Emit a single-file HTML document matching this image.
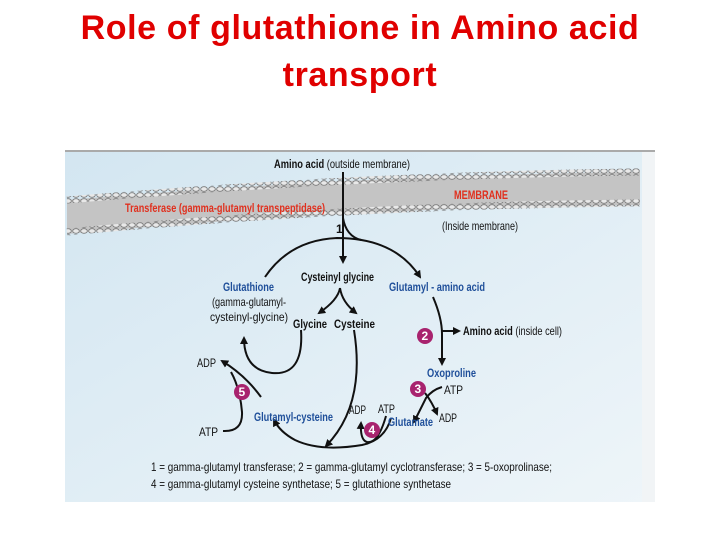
<!DOCTYPE html><html><head><style>
body{margin:0;width:720px;height:540px;background:#fff;overflow:hidden;font-family:"Liberation Sans",sans-serif}
h1{margin:0;position:absolute;top:5px;width:720px;text-align:center;color:#e00000;font-weight:bold;font-size:34px;line-height:47px;font-family:"Liberation Sans",sans-serif;letter-spacing:0.6px}
svg{position:absolute;left:0;top:0}
text{font-family:"Liberation Sans",sans-serif;font-size:12px}
.b{fill:#1f4f9a;font-weight:bold}.k{fill:#111}.r{fill:#e0301e;font-weight:bold}
</style></head><body>
<h1>Role of glutathione in Amino acid<br>transport</h1>
<svg width="720" height="540">
<defs>
<linearGradient id="bg" x1="0" y1="0" x2="1" y2="1"><stop offset="0" stop-color="#d3e6f1"/><stop offset="1" stop-color="#eef5f9"/></linearGradient>
<marker id="a" markerWidth="8" markerHeight="8" refX="6" refY="4" orient="auto" markerUnits="userSpaceOnUse"><path d="M0,0L8,4L0,8z" fill="#111"/></marker>
<pattern id="bub" width="8" height="6" patternUnits="userSpaceOnUse"><ellipse cx="4" cy="3" rx="3.3" ry="2.3" fill="#e8e8e8" stroke="#777" stroke-width="0.8"/></pattern>
</defs>
<rect x="65" y="150" width="590" height="352" fill="url(#bg)"/>
<rect x="642" y="150" width="13" height="352" fill="#f1f4f6"/>
<rect x="65" y="150" width="590" height="2" fill="#aaa"/>
<path d="M67,200 Q360,175 640,172 L640,205 Q360,207 67,234 Z" fill="#c4c4c4"/>
<path d="M67,200 Q360,175 640,172" stroke="url(#bub)" stroke-width="7" fill="none"/>
<path d="M67,232 Q360,205 640,203" stroke="url(#bub)" stroke-width="7" fill="none"/>
<g fill="none" stroke="#111" stroke-width="2">
<path d="M343,172 L343,262" marker-end="url(#a)"/>
<path d="M265,277 Q290,240 337,238 Q395,238 420,277" marker-end="url(#a)"/>
<path d="M343,218 Q346,236 361,240"/>
<path d="M340,288 Q338,300 319,313" marker-end="url(#a)"/>
<path d="M340,288 Q342,302 356,313" marker-end="url(#a)"/>
<path d="M433,297 Q442,318 442,334 L442,364" marker-end="url(#a)"/>
<path d="M442,331 L459,331" marker-end="url(#a)"/>
<path d="M301,330 Q304,376 272,373 Q244,370 244,338" marker-end="url(#a)"/>
<path d="M354,330 Q366,405 326,446" marker-end="url(#a)"/>
<path d="M261,397 Q245,375 222,361" marker-end="url(#a)"/>
<path d="M223,431 Q243,432 242,412 Q240,388 231,372"/>
<path d="M442,387 Q432,390 426,398 Q420,410 414,422" marker-end="url(#a)"/>
<path d="M425,393 Q432,402 437,414" marker-end="url(#a)"/>
<path d="M391,418 Q385,440 362,445 Q320,452 295,440 Q280,432 274,420" marker-end="url(#a)"/>
<path d="M386,416 Q378,444 367,442 Q360,440 361,423" marker-end="url(#a)"/>
</g>
<g fill="#a8236e"><circle cx="425" cy="336" r="8"/><circle cx="418" cy="389" r="8"/><circle cx="372" cy="430" r="8"/><circle cx="242" cy="392" r="8"/></g>
<g fill="#fff" font-weight="bold"><text x="421.5" y="340">2</text><text x="414.5" y="393">3</text><text x="368.5" y="434">4</text><text x="238.5" y="396">5</text></g>
<text class="k" x="274" y="168" textLength="136" lengthAdjust="spacingAndGlyphs"><tspan font-weight="bold">Amino acid</tspan> (outside membrane)</text>
<text class="r" x="125" y="212" textLength="200" lengthAdjust="spacingAndGlyphs">Transferase (gamma-glutamyl transpeptidase)</text>
<text class="r" x="454" y="199" textLength="54" lengthAdjust="spacingAndGlyphs">MEMBRANE</text>
<text class="k" x="442" y="230" textLength="76" lengthAdjust="spacingAndGlyphs">(Inside membrane)</text>
<text class="k" x="336" y="233" font-weight="bold">1</text>
<text class="k" x="301" y="281" font-weight="bold" textLength="73" lengthAdjust="spacingAndGlyphs">Cysteinyl glycine</text>
<text class="b" x="223" y="291" textLength="51" lengthAdjust="spacingAndGlyphs">Glutathione</text>
<text class="k" x="212" y="306" textLength="74" lengthAdjust="spacingAndGlyphs">(gamma-glutamyl-</text>
<text class="k" x="210" y="321" textLength="78" lengthAdjust="spacingAndGlyphs">cysteinyl-glycine)</text>
<text class="k" x="293" y="328" font-weight="bold" textLength="34" lengthAdjust="spacingAndGlyphs">Glycine</text>
<text class="k" x="334" y="328" font-weight="bold" textLength="41" lengthAdjust="spacingAndGlyphs">Cysteine</text>
<text class="b" x="389" y="291" textLength="96" lengthAdjust="spacingAndGlyphs">Glutamyl - amino acid</text>
<text class="k" x="463" y="335" textLength="99" lengthAdjust="spacingAndGlyphs"><tspan font-weight="bold">Amino acid</tspan> (inside cell)</text>
<text class="b" x="427" y="377" textLength="49" lengthAdjust="spacingAndGlyphs">Oxoproline</text>
<text class="k" x="444" y="394" textLength="19" lengthAdjust="spacingAndGlyphs">ATP</text>
<text class="k" x="439" y="422" textLength="18" lengthAdjust="spacingAndGlyphs">ADP</text>
<text class="b" x="388" y="426" textLength="45" lengthAdjust="spacingAndGlyphs">Glutamate</text>
<text class="k" x="349" y="414" textLength="17" lengthAdjust="spacingAndGlyphs">ADP</text>
<text class="k" x="378" y="413" textLength="17" lengthAdjust="spacingAndGlyphs">ATP</text>
<text class="b" x="254" y="421" textLength="79" lengthAdjust="spacingAndGlyphs">Glutamyl-cysteine</text>
<text class="k" x="197" y="367" textLength="19" lengthAdjust="spacingAndGlyphs">ADP</text>
<text class="k" x="199" y="436" textLength="19" lengthAdjust="spacingAndGlyphs">ATP</text>
<text class="k" x="151" y="471" textLength="401" lengthAdjust="spacingAndGlyphs">1 = gamma-glutamyl transferase; 2 = gamma-glutamyl cyclotransferase; 3 = 5-oxoprolinase;</text>
<text class="k" x="151" y="488" textLength="300" lengthAdjust="spacingAndGlyphs">4 = gamma-glutamyl cysteine synthetase; 5 = glutathione synthetase</text>
</svg>
</body></html>
